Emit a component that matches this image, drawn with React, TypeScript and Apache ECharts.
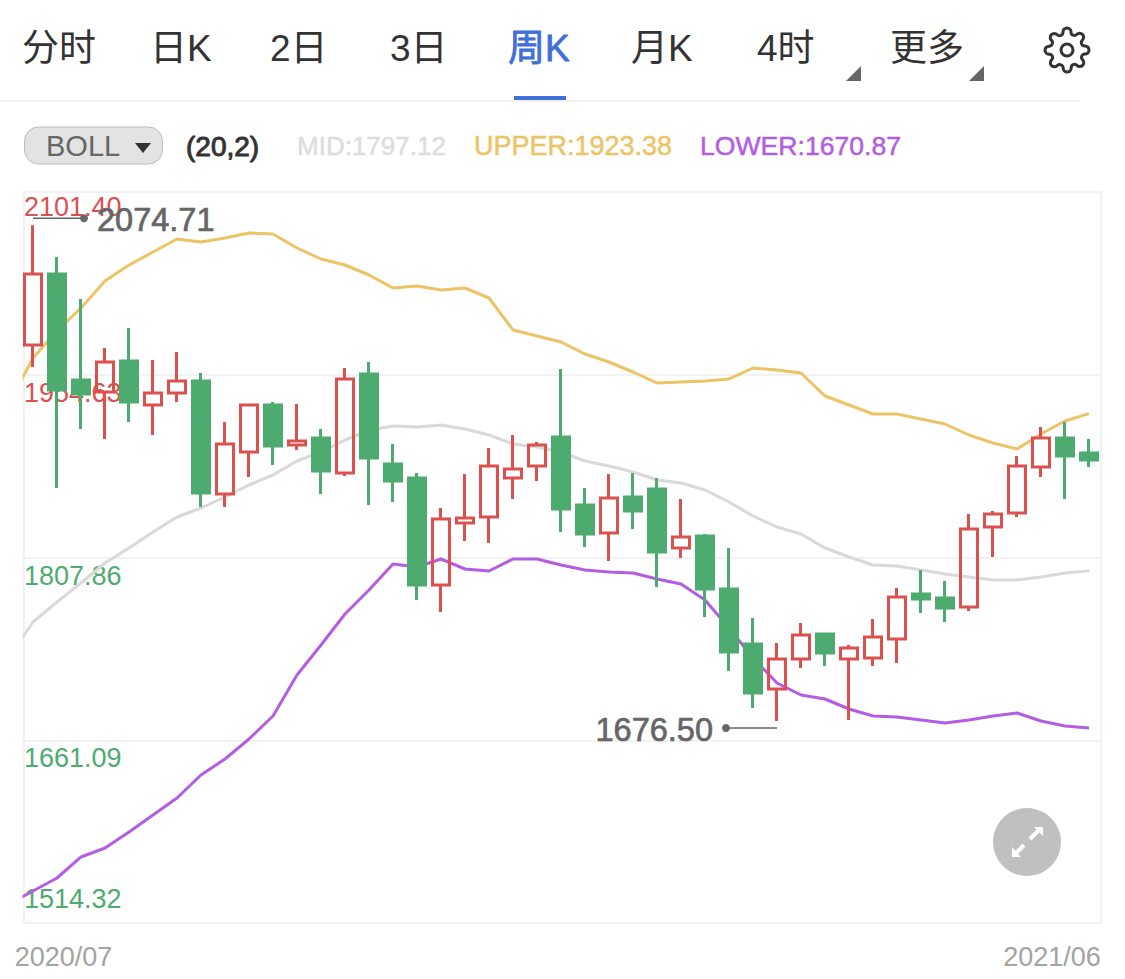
import { useEffect, useRef } from "react";
import * as echarts from "echarts";

const tabLabels = ["分时", "日K", "2日", "3日", "周K", "月K", "4时", "更多"];
const tabX = [22, 150, 270, 390, 508, 631, 757, 890];
const activeTab = "周K";

// first category sits left of the visible frame, only the band lines use it
const categories = [
  "2020/07", "2020/07", "2020/07", "2020/07", "2020/07",
  "2020/08", "2020/08", "2020/08", "2020/08",
  "2020/09", "2020/09", "2020/09", "2020/09",
  "2020/10", "2020/10", "2020/10", "2020/10", "2020/10",
  "2020/11", "2020/11", "2020/11", "2020/11",
  "2020/12", "2020/12", "2020/12", "2020/12",
  "2021/01", "2021/01", "2021/01", "2021/01",
  "2021/02", "2021/02", "2021/02", "2021/02",
  "2021/03", "2021/03", "2021/03", "2021/03",
  "2021/04", "2021/04", "2021/04",
  "2021/05", "2021/05",
  "2021/06", "2021/06", "2021/06",
];

// open, close, low, high
const candles: (number | string)[][] = [
  ["-", "-", "-", "-"],
  [1978.52, 2035.55, 1960.85, 2074.71],
  [2035.55, 1942.38, 1863.68, 2049.2],
  [1950.41, 1939.17, 1911.06, 2015.47],
  [1940.78, 1964.87, 1903.03, 1976.11],
  [1965.67, 1932.75, 1916.68, 1992.18],
  [1930.34, 1939.97, 1906.24, 1966.48],
  [1939.97, 1949.61, 1932.75, 1972.9],
  [1949.61, 1859.66, 1848.42, 1956.04],
  [1858.86, 1899.01, 1848.42, 1916.68],
  [1892.59, 1930.34, 1872.51, 1930.34],
  [1930.34, 1897.41, 1882.15, 1932.75],
  [1898.21, 1901.42, 1894.2, 1931.14],
  [1903.83, 1877.33, 1858.86, 1911.06],
  [1875.72, 1951.22, 1873.31, 1960.05],
  [1955.23, 1887.77, 1850.02, 1964.87],
  [1882.95, 1869.3, 1852.43, 1899.01],
  [1871.71, 1785.77, 1773.73, 1875.72],
  [1785.77, 1838.78, 1764.09, 1847.62],
  [1835.57, 1839.58, 1821.11, 1874.92],
  [1840.39, 1881.35, 1819.51, 1895.8],
  [1871.71, 1878.94, 1854.84, 1906.24],
  [1881.35, 1898.21, 1869.3, 1900.62],
  [1904.64, 1846.81, 1828.34, 1959.25],
  [1850.02, 1826.73, 1816.29, 1863.68],
  [1827.54, 1855.65, 1805.05, 1874.92],
  [1856.45, 1845.21, 1830.75, 1875.72],
  [1862.87, 1812.28, 1784.17, 1871.71],
  [1815.49, 1824.32, 1807.46, 1854.84],
  [1825.13, 1782.56, 1760.07, 1826.73],
  [1782.56, 1731.97, 1716.71, 1815.49],
  [1738.39, 1699.04, 1686.99, 1759.27],
  [1702.25, 1726.34, 1676.5, 1739.19],
  [1726.34, 1745.62, 1719.12, 1755.26],
  [1746.42, 1731.16, 1720.72, 1746.42],
  [1726.34, 1735.18, 1677.35, 1737.59],
  [1727.15, 1744.01, 1720.72, 1758.47],
  [1742.41, 1776.14, 1723.13, 1783.37],
  [1778.55, 1774.53, 1763.29, 1797.82],
  [1775.33, 1767.3, 1756.06, 1788.99],
  [1768.11, 1830.75, 1764.89, 1842.8],
  [1832.36, 1842.8, 1808.26, 1845.21],
  [1843.61, 1881.35, 1840.39, 1889.38],
  [1880.54, 1903.83, 1872.51, 1912.67],
  [1903.83, 1889.38, 1854.84, 1916.68],
  [1891.79, 1886.16, 1880.54, 1903.03],
];

const upper = [
  1931.94, 1968.08, 1989.77, 2008.24, 2029.92, 2042.77, 2053.21, 2063.65, 2061.24, 2064.46,
  2068.47, 2067.67, 2056.43, 2047.59, 2042.77, 2034.74, 2024.3, 2025.91, 2022.7, 2024.3,
  2016.27, 1990.57, 1985.75, 1980.93, 1971.3, 1964.87, 1956.84, 1948.01, 1948.81, 1949.61,
  1951.22, 1960.05, 1958.45, 1956.04, 1937.56, 1930.34, 1923.11, 1923.11, 1919.09, 1915.08,
  1906.24, 1899.82, 1895.0, 1907.05, 1917.49, 1923.38,
];

const mid = [
  1727.95, 1756.06, 1772.12, 1787.38, 1803.44, 1815.49, 1828.34, 1840.39, 1847.62, 1856.45,
  1866.09, 1874.12, 1885.36, 1892.59, 1902.23, 1910.26, 1913.47, 1912.67, 1914.27, 1911.06,
  1906.24, 1899.01, 1896.61, 1892.59, 1885.36, 1881.35, 1876.53, 1870.1, 1867.69, 1862.07,
  1852.43, 1841.19, 1832.36, 1826.73, 1815.49, 1808.26, 1801.84, 1801.03, 1797.82, 1794.61,
  1792.2, 1789.79, 1789.79, 1792.2, 1795.41, 1797.12,
];

const lower = [
  1529.58, 1540.02, 1550.46, 1567.33, 1574.55, 1587.4, 1601.06, 1614.71, 1633.18, 1646.03,
  1662.09, 1680.57, 1713.49, 1737.59, 1762.48, 1781.76, 1802.64, 1800.23, 1806.66, 1798.62,
  1797.02, 1806.66, 1806.66, 1801.84, 1797.82, 1796.22, 1795.41, 1790.59, 1786.58, 1773.73,
  1751.24, 1727.15, 1707.07, 1697.43, 1694.22, 1686.19, 1680.57, 1679.76, 1677.35, 1674.94,
  1677.35, 1680.57, 1682.97, 1676.55, 1672.53, 1670.87,
];

const yTicks = [1514.32, 1661.09, 1807.86, 1954.63, 2101.4];
const extremes = [
  [1, 2074.71],
  [32, 1676.5],
];

const RED = "#DA5150";
const GREEN = "#4EAB6F";
const YELLOW = "#EDC465";
const GREY = "#D9D9D9";
const PURPLE = "#B45DE2";
const FRAME = "#F2F2F2";
const BLUE = "#3F6FD9";
const LATIN = '"Liberation Sans", Arial, sans-serif';

const GEAR_PATH =
  "M12 15a3 3 0 1 0 0-6 3 3 0 0 0 0 6z M19.4 15a1.65 1.65 0 0 0 .33 1.82l.06.06a2 2 0 0 1 0 2.83 2 2 0 0 1-2.83 0l-.06-.06a1.65 1.65 0 0 0-1.82-.33 1.65 1.65 0 0 0-1 1.51V21a2 2 0 0 1-2 2 2 2 0 0 1-2-2v-.09A1.65 1.65 0 0 0 9 19.4a1.65 1.65 0 0 0-1.82.33l-.06.06a2 2 0 0 1-2.83 0 2 2 0 0 1 0-2.83l.06-.06a1.65 1.65 0 0 0 .33-1.82 1.65 1.65 0 0 0-1.51-1H3a2 2 0 0 1-2-2 2 2 0 0 1 2-2h.09A1.65 1.65 0 0 0 4.6 9a1.65 1.65 0 0 0-.33-1.82l-.06-.06a2 2 0 0 1 0-2.83 2 2 0 0 1 2.83 0l.06.06a1.65 1.65 0 0 0 1.82.33H9a1.65 1.65 0 0 0 1-1.51V3a2 2 0 0 1 2-2 2 2 0 0 1 2 2v.09a1.65 1.65 0 0 0 1 1.51 1.65 1.65 0 0 0 1.82-.33l.06-.06a2 2 0 0 1 2.83 0 2 2 0 0 1 0 2.83l-.06.06a1.65 1.65 0 0 0-.33 1.82V9a1.65 1.65 0 0 0 1.51 1H21a2 2 0 0 1 2 2 2 2 0 0 1-2 2h-.09a1.65 1.65 0 0 0-1.51 1z";
echarts.graphic.registerShape("gear", echarts.graphic.extendPath(GEAR_PATH, {}) as any);

function bandLine(name: string, data: number[], color: string) {
  return {
    name,
    type: "line",
    data,
    z: 2,
    symbol: "none",
    silent: true,
    lineStyle: { color, width: 3 },
  };
}

function legendText(text: string, x: number, fill: string, size: number, weight = 0.5) {
  return {
    type: "text",
    x,
    y: 146,
    style: {
      text,
      fill,
      stroke: fill,
      lineWidth: weight,
      font: `${size}px ${LATIN}`,
      textVerticalAlign: "middle",
    },
  };
}

export default function App() {
  const containerRef = useRef<HTMLDivElement | null>(null);

  useEffect(() => {
    if (!containerRef.current) return;
    const chart = echarts.init(containerRef.current, null, { renderer: "svg" });

    const option: any = {
      animation: false,
      backgroundColor: "#fff",
      grid: { left: -3, top: 192, width: 1104, height: 731, outerBoundsMode: "none" },
      xAxis: {
        type: "category",
        data: categories,
        axisLine: { show: false },
        axisTick: { show: false },
        splitLine: { show: false },
        axisLabel: {
          interval: (i: number) => i === 2 || i === 43,
          margin: 20,
          formatter: (v: string, i: number) => (i === 2 ? `{first|${v}}` : `{last|${v}}`),
          rich: {
            first: { fontSize: 27, fontFamily: LATIN, color: "#A3A3A3", padding: [0, 0, 0, 13] },
            last: { fontSize: 27, fontFamily: LATIN, color: "#A3A3A3", padding: [0, 0, 0, 22] },
          },
        },
      },
      yAxis: {
        type: "value",
        min: yTicks[0],
        max: yTicks[yTicks.length - 1],
        scale: true,
        axisLine: { show: false },
        axisTick: { show: false, customValues: yTicks },
        splitLine: { lineStyle: { color: FRAME, width: 2 } },
        axisLabel: {
          customValues: yTicks,
          inside: true,
          margin: 27,
          align: "left",
          verticalAlign: "middle",
          hideOverlap: false,
          formatter: (v: number) => {
            const text = v.toFixed(2);
            if (v === yTicks[4]) return `{top|${text}}`;
            if (v === yTicks[3]) return `{up|${text}}`;
            if (v === yTicks[0]) return `{bottom|${text}}`;
            return `{down|${text}}`;
          },
          rich: {
            top: { fontSize: 27, fontFamily: LATIN, color: RED, padding: [30, 0, 0, 0] },
            up: { fontSize: 27, fontFamily: LATIN, color: RED, padding: [36, 0, 0, 0] },
            down: { fontSize: 27, fontFamily: LATIN, color: GREEN, padding: [36, 0, 0, 0] },
            bottom: { fontSize: 27, fontFamily: LATIN, color: GREEN, padding: [0, 0, 48, 0] },
          },
        },
      },
      series: [
        bandLine("MID", mid, GREY),
        bandLine("UPPER", upper, YELLOW),
        bandLine("LOWER", lower, PURPLE),
        {
          name: "周K",
          type: "candlestick",
          data: candles,
          z: 3,
          barWidth: 18,
          silent: true,
          itemStyle: {
            color: "transparent",
            color0: GREEN,
            borderColor: RED,
            borderColor0: GREEN,
            borderWidth: 3,
          },
        },
        {
          name: "extremes",
          type: "custom",
          z: 5,
          silent: true,
          data: extremes,
          encode: { x: 0, y: 1 },
          renderItem: (_: any, api: any) => {
            const value = api.value(1) as number;
            const [px, py] = api.coord([api.value(0), value]);
            const isHigh = value > 1900;
            const y = isHigh ? py - 7 : py + 7;
            const dotX = isHigh ? px + 51 : px - 51;
            return {
              type: "group",
              children: [
                { type: "line", shape: { x1: px, y1: y, x2: dotX, y2: y }, style: { stroke: "#666", lineWidth: 1.5 } },
                { type: "circle", shape: { cx: dotX, cy: y, r: 4 }, style: { fill: "#666" } },
                {
                  type: "text",
                  x: isHigh ? dotX + 13 : dotX - 13,
                  y: y + 2,
                  style: {
                    text: value.toFixed(2),
                    fill: "#666",
                    stroke: "#666",
                    lineWidth: 0.7,
                    font: `32.5px ${LATIN}`,
                    textAlign: isHigh ? "left" : "right",
                    textVerticalAlign: "middle",
                  },
                },
              ],
            };
          },
        },
      ],
      graphic: [
        // masks the bit of the plot left of the frame
        { type: "rect", z: 4, shape: { x: 0, y: 186, width: 22.5, height: 744 }, style: { fill: "#fff" } },
        {
          type: "rect",
          z: 1,
          shape: { x: 24, y: 192, width: 1077, height: 731 },
          style: { fill: "none", stroke: FRAME, lineWidth: 2 },
        },
        ...tabLabels.map((text, i) => ({
          type: "text",
          x: tabX[i],
          y: 48,
          style: {
            text,
            fill: text === activeTab ? BLUE : "#333",
            stroke: text === activeTab ? BLUE : undefined,
            lineWidth: text === activeTab ? 0.8 : 0,
            font: `37px "Liberation Sans", "Noto Sans CJK SC", sans-serif`,
            textVerticalAlign: "middle",
          },
        })),
        { type: "polygon", shape: { points: [[861, 66], [861, 81], [846, 81]] }, style: { fill: "#666" } },
        { type: "polygon", shape: { points: [[984, 66], [984, 81], [969, 81]] }, style: { fill: "#666" } },
        { type: "gear", x: 1043, y: 26, scaleX: 2, scaleY: 2, style: { fill: "none", stroke: "#333", lineWidth: 1.5 } },
        { type: "rect", shape: { x: 0, y: 100, width: 1080, height: 2 }, style: { fill: FRAME } },
        { type: "rect", shape: { x: 514, y: 96, width: 52, height: 4 }, style: { fill: BLUE } },
        {
          type: "rect",
          shape: { x: 24.5, y: 127, width: 138, height: 37, r: 14 },
          style: { fill: "#E3E3E3", stroke: "#BDBDBD", lineWidth: 1 },
        },
        {
          type: "text",
          x: 46,
          y: 146,
          style: { text: "BOLL", fill: "#666", font: `29px ${LATIN}`, textVerticalAlign: "middle" },
        },
        { type: "polygon", shape: { points: [[135, 143], [151, 143], [143, 153]] }, style: { fill: "#333" } },
        legendText("(20,2)", 186, "#333", 28, 1),
        legendText("MID:1797.12", 297, "#DDDDDD", 26),
        legendText("UPPER:1923.38", 474, YELLOW, 27),
        legendText("LOWER:1670.87", 700, PURPLE, 26.6),
        { type: "circle", shape: { cx: 1027, cy: 842, r: 34 }, style: { fill: "#C0C0C0" } },
        { type: "line", shape: { x1: 1030, y1: 839, x2: 1038, y2: 831 }, style: { stroke: "#fff", lineWidth: 4 } },
        { type: "polygon", shape: { points: [[1034, 827], [1043, 827], [1043, 836]] }, style: { fill: "#fff" } },
        { type: "line", shape: { x1: 1024, y1: 845, x2: 1016, y2: 853 }, style: { stroke: "#fff", lineWidth: 4 } },
        { type: "polygon", shape: { points: [[1012, 847], [1012, 857], [1021, 857]] }, style: { fill: "#fff" } },
      ],
    };

    chart.setOption(option);
    return () => chart.dispose();
  }, []);

  return (
    <div
      ref={containerRef}
      style={{ position: "absolute", left: 0, top: 0, width: 1125, height: 979 }}
    />
  );
}
